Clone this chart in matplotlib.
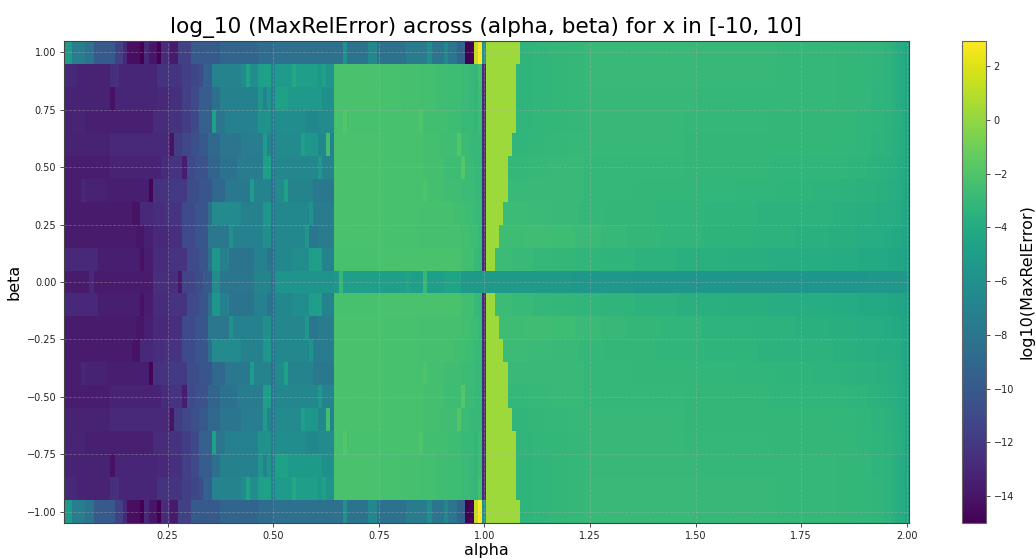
"""
Heatmap of log10 max relative error over (alpha, beta).
"""

import matplotlib
matplotlib.use("Agg")
import matplotlib.pyplot as plt
import numpy as np

ALPHA = np.arange(1, 201) / 100
BETA = np.arange(-10, 11) / 10

LIME = 0.3

# each row is a list of (number of cells, log10 error)
ROW_100 = [
    (2, -5.3), (3, -7.5), (2, -8.2), (5, -10), (2, -11.5), (1, -13), (3, -14.3), (1, -15),
    (1, -13), (2, -14), (1, -15), (2, -12.8), (2, -13.8), (3, -11.5), (7, -10), (9, -9.2),
    (4, -8.7), (16, -8.4), (1, -6), (5, -8.2), (2, -6.7), (7, -8.3), (5, -7.6), (1, -6.2),
    (3, -8), (1, -6.7), (2, -8), (2, -9.2), (2, -15), (1, 1.2), (1, 2.93), (1, -6), (8, LIME),
    (3, -3.35), (4, -3.25), (4, -3.15), (4, -3.05), (26, -2.95), (20, -3.0), (14, -3.05), (5, -3.1),
    (3, -3.2), (3, -3.3), (2, -3.4), (1, -3.6), (1, -3.8), (1, -4.0), (1, -4.4),
]
ROW_090 = [
    (3, -12.9), (8, -13.3), (2, -12.6), (9, -13.1), (3, -12.4), (3, -12.2), (2, -11.7), (2, -11.2),
    (1, -10.8), (2, -9.6), (7, -7), (1, -6.4), (1, -4.5), (2, -6.3), (1, -5), (2, -4.8), (1, -7.2),
    (4, -5.2), (1, -4.2), (5, -5), (1, -5.5), (1, -4.8), (2, -5.8),
    (10, -2.25), (6, -2.3), (4, -2.35), (4, -2.45), (3, -2.55), (3, -2.7), (2, -2.85), (1, -3.0),
    (1, -3.1), (1, -2.5), (1, -12.8), (7, LIME),
    (4, -3.35), (4, -3.25), (4, -3.15), (4, -3.05), (26, -2.95), (20, -3.0), (14, -3.05), (5, -3.1),
    (3, -3.2), (3, -3.3), (2, -3.4), (1, -3.6), (1, -3.8), (1, -4.0), (1, -4.4),
]
ROW_080 = [
    (11, -13.3), (1, -14.2), (10, -13.1), (3, -12.9), (3, -12.5), (2, -11.7), (2, -11), (3, -9.8),
    (2, -8.5), (9, -7.2), (1, -5.6), (1, -7), (1, -5.6), (1, -7.6), (3, -4.8), (8, -5.4), (3, -6.1),
    (10, -2.25), (6, -2.3), (4, -2.35), (4, -2.45), (3, -2.55), (3, -2.7), (2, -2.85), (1, -3.0),
    (1, -3.1), (1, -2.8), (1, -12.8), (7, LIME),
    (4, -3.35), (4, -3.25), (4, -3.15), (4, -3.05), (26, -3.0), (20, -3.03), (14, -3.08), (5, -3.13),
    (3, -3.23), (3, -3.33), (2, -3.43), (1, -3.6), (1, -3.8), (1, -4.0), (1, -4.4),
]
ROW_070 = [
    (5, -13.2), (16, -13.4), (4, -12.8), (3, -12.4), (2, -11.8), (2, -11), (3, -9.5), (1, -4.9),
    (2, -8), (8, -7.2), (3, -6), (1, -7.6), (7, -6.2), (3, -6.6), (4, -6.5),
    (2, -2.3), (1, -1.9), (17, -2.3), (1, -2.0), (6, -2.5), (3, -2.7), (3, -2.9), (1, -3.1), (1, -2.8),
    (1, -12.8), (7, LIME),
    (4, -3.3), (4, -3.2), (4, -3.1), (4, -3.05), (24, -3.0), (20, -3.05), (16, -3.1), (5, -3.15),
    (3, -3.25), (3, -3.35), (2, -3.45), (1, -3.55), (1, -3.65), (1, -3.85), (1, -4.4),
]
ROW_060 = [
    (11, -13.3), (14, -13), (1, -14.1), (2, -11.8), (2, -11.2), (2, -10.6), (2, -10), (3, -9), (5, -8),
    (5, -7.5), (1, -5.2), (1, -7), (1, -8), (6, -6.5), (1, -5), (3, -5.6), (2, -6.6), (1, -2.5), (1, -7.2),
    (12, -2.25), (9, -2.3), (4, -2.4), (4, -2.6), (1, -1.9), (2, -2.8), (3, -3.0), (1, -12.8), (6, LIME),
    (4, -3.25), (4, -3.15), (5, -3.05), (4, -3.0), (24, -3.0), (20, -3.1), (16, -3.15), (5, -3.2),
    (3, -3.3), (3, -3.4), (2, -3.5), (1, -3.6), (1, -3.7), (1, -3.9), (1, -4.4),
]
ROW_050 = [
    (11, -13.6), (12, -13.3), (2, -12.8), (3, -12.3), (1, -13.6), (2, -11), (3, -10.5), (3, -9.3),
    (4, -8.3), (6, -7.6), (2, -5), (1, -8), (10, -6.7), (1, -5.5), (3, -7),
    (12, -2.25), (9, -2.3), (5, -2.4), (4, -2.65), (1, -1.9), (2, -2.85), (2, -3.0), (1, -12.8), (5, LIME),
    (5, -3.05), (5, -3.0), (8, -2.95), (24, -3.05), (20, -3.15), (14, -3.25), (5, -3.3), (4, -3.35),
    (3, -3.45), (2, -3.55), (2, -3.65), (1, -3.8), (1, -4.0), (1, -4.45),
]
ROW_040 = [
    (4, -13.6), (1, -13), (5, -13.3), (10, -13.5), (1, -14.8), (4, -12.4), (4, -12), (3, -10.8),
    (3, -10.2), (3, -9), (6, -7.8), (1, -5.2), (4, -7), (1, -8.5), (2, -6.5), (1, -4.8), (6, -7), (5, -7.8),
    (12, -2.25), (9, -2.3), (1, -2.05), (4, -2.4), (4, -2.6), (3, -2.8), (2, -3.0), (1, -12.8), (5, LIME),
    (5, -2.95), (5, -2.9), (8, -2.95), (12, -3.05), (12, -3.1), (12, -3.2), (10, -3.25), (8, -3.35),
    (7, -3.4), (4, -3.45), (4, -3.55), (3, -3.65), (2, -3.75), (1, -3.9), (1, -4.05), (1, -4.5),
]
ROW_030 = [
    (16, -13.7), (2, -14.1), (3, -13), (3, -12.7), (4, -12.3), (3, -11), (3, -10.2), (1, -8.5), (2, -6.5),
    (5, -6.5), (5, -7.2), (2, -5.6), (1, -8), (8, -6.6), (1, -5.8), (5, -7.6),
    (12, -2.25), (8, -2.3), (8, -2.35), (3, -2.5), (2, -2.7), (2, -2.9), (1, -12.8), (4, LIME),
    (6, -2.8), (6, -2.85), (6, -2.95), (6, -3.05), (12, -3.15), (12, -3.25), (12, -3.35), (10, -3.45),
    (8, -3.5), (6, -3.6), (4, -3.7), (3, -3.8), (2, -3.9), (1, -4.0), (1, -4.15), (1, -4.55),
]
ROW_020 = [
    (17, -13.7), (2, -14), (2, -13.4), (4, -13), (3, -12.6), (3, -11), (3, -10.2), (5, -7.9), (1, -6),
    (7, -7.2), (2, -6.1), (1, -8.2), (7, -6.7), (1, -5.5), (2, -8), (4, -7.6),
    (12, -2.25), (8, -2.3), (10, -2.35), (2, -2.5), (2, -2.7), (1, -2.9), (1, -12.8), (3, LIME),
    (6, -2.65), (6, -2.6), (6, -2.7), (6, -2.85), (6, -3.0), (8, -3.15), (10, -3.3), (12, -3.4),
    (10, -3.5), (8, -3.6), (6, -3.7), (4, -3.8), (3, -3.9), (2, -4.0), (2, -4.1), (1, -4.3), (1, -4.6),
]
ROW_010 = [
    (8, -12.9), (10, -13.5), (1, -14.2), (2, -13.6), (4, -12.8), (4, -12.3), (3, -11), (2, -10.2),
    (1, -8.5), (2, -5.6), (2, -7.2), (6, -8.2), (3, -7.2), (1, -8), (1, -8.5), (4, -6.6), (4, -6.3),
    (3, -5), (3, -7),
    (10, -2.3), (10, -2.25), (10, -2.2), (3, -2.5), (2, -3.0), (1, -12.8), (2, LIME),
    (4, -2.75), (5, -2.9), (5, -3.05), (5, -3.15), (6, -3.25), (8, -3.35), (10, -3.5), (12, -3.6),
    (10, -3.7), (8, -3.8), (7, -3.9), (6, -4.0), (4, -4.1), (3, -4.2), (2, -4.3), (2, -4.45), (1, -4.75),
]
ROW_000 = [
    (6, -13.7), (1, -13), (14, -13.7), (6, -12.6), (1, -13.9), (3, -11.4), (2, -10.8), (2, -10),
    (2, -6.5), (8, -8), (4, -7), (1, -8.5), (14, -5.7), (1, -5.5), (1, -3), (15, -5), (1, -4.6), (3, -5),
    (1, -3), (4, -5), (4, -4.5),
    (6, -5.3), (10, -5.35), (10, -5.4), (15, -5.5), (25, -5.6), (15, -5.65), (15, -5.55), (10, -5.45),
]
UPPER_ROWS = [ROW_000, ROW_010, ROW_020, ROW_030, ROW_040, ROW_050,
              ROW_060, ROW_070, ROW_080, ROW_090, ROW_100]


def expand(runs):
    counts, values = zip(*runs)
    return np.repeat(values, counts)


upper = np.array([expand(r) for r in UPPER_ROWS])
# the map is mirrored in beta
errors = np.vstack([upper[:0:-1], upper])

fig = plt.figure(figsize=(10.36, 5.59), dpi=100)
ax = fig.add_axes([64 / 1036, 1 - 523 / 559, 845 / 1036, 482 / 559])
cax = fig.add_axes([962 / 1036, 1 - 523 / 559, 24 / 1036, 482 / 559])

mesh = ax.pcolormesh(ALPHA, BETA, errors, cmap="viridis", shading="nearest")
ax.set_title("log_10 (MaxRelError) across (alpha, beta) for x in [-10, 10]", fontsize=15.6, pad=6)
ax.set_xlabel("alpha", fontsize=11.5, labelpad=2)
ax.set_ylabel("beta", fontsize=11.5, labelpad=4)
ax.tick_params(labelsize=7, length=3, width=0.6, pad=2.5, color="#333333", labelcolor="#222222")
ax.grid(True, color="#b0b0b0", linestyle="--", linewidth=0.6, alpha=0.4)
for spine in ax.spines.values():
    spine.set_linewidth(0.8)
    spine.set_color("#444444")

cbar = fig.colorbar(mesh, cax=cax)
cbar.set_label("log10(MaxRelError)", fontsize=11.5, labelpad=4)
cbar.ax.tick_params(labelsize=7, length=3, width=0.6, pad=2.5, color="#333333", labelcolor="#222222")
cbar.outline.set_linewidth(0.8)
cbar.outline.set_edgecolor("#666666")

fig.savefig("out.png", dpi=100)
